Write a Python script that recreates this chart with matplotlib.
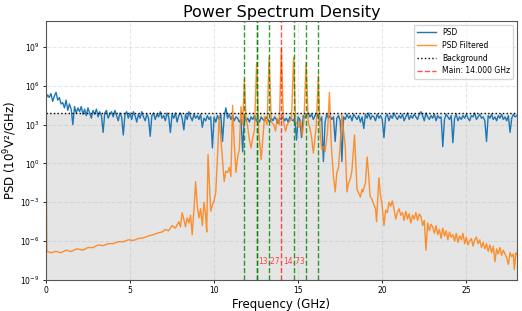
import numpy as np
import matplotlib

matplotlib.use("Agg")
import matplotlib.pyplot as plt
from matplotlib.ticker import NullLocator

# PSD (log10 values) sampled every 0.1 GHz from 0 to 28 GHz, one row per GHz
psd_freq = np.round(np.arange(0, 28.01, 0.1), 2)
psd_log10 = [
    5.0, 5.3, 5.1, 5.4, 4.8, 5.2, 5.5, 4.9, 5.1, 4.6,
    4.7, 4.3, 4.9, 4.1, 4.6, 4.2, 3.0, 4.4, 3.9, 4.3,
    4.0, 4.4, 3.8, 4.2, 3.7, 4.3, 3.9, 3.5, 4.1, 3.8,
    4.2, 3.6, 4.0, 3.7, 2.4, 3.9, 4.1, 3.5, 3.8, 4.0,
    3.6, 4.1, 3.7, 3.3, 3.9, 3.6, 2.2, 3.8, 4.0, 3.5,
    3.9, 3.4, 4.0, 3.7, 3.2, 3.8, 3.5, 4.0, 3.6, 3.3,
    3.8, 3.5, 2.1, 3.7, 3.9, 3.4, 3.8, 3.6, 4.0, 3.5,
    3.7, 3.3, 3.9, 3.6, 2.4, 3.8, 3.5, 3.9, 3.2, 3.7,
    3.9, 3.5, 2.6, 3.8, 3.4, 4.0, 3.6, 3.3, 3.8, 3.5,
    3.7, 3.4, 3.8, 2.8, 3.5, 3.3, 3.7, 3.4, 3.6, 1.2,
    3.6, 3.2, 3.7, 3.4, 3.8, 1.7, 3.6, 4.3, 3.5, 3.8,
    3.4, 3.7, 3.3, 3.6, 3.5, 3.2, 3.4, 0.9, 3.6, 3.3,
    3.5, 3.2, 3.6, 3.4, 3.7, 3.3, 3.5, 3.2, 3.6, 3.4,
    3.3, 3.6, 3.4, 3.2, 3.5, 3.3, 3.6, 3.4, 3.1, 3.5,
    3.4, 3.6, 3.3, 3.5, 3.2, 3.6, 3.4, 3.3, 3.5, 1.8,
    3.6, 3.4, 2.0, 3.7, 3.5, 3.8, 3.9, 3.6, 3.8, 3.4,
    3.7, 3.9, 3.5, 3.3, 3.6, 0.15, 3.2, 3.8, 3.5, 3.7,
    3.4, 3.6, 1.7, 3.5, 3.7, 3.3, 0.15, 3.6, 3.4, 3.8,
    3.5, 3.7, 3.3, 3.8, 3.6, 3.4, 3.7, 3.2, 3.6, 2.7,
    3.8, 3.5, 3.9, 3.4, 3.7, 3.6, 3.3, 3.8, 3.5, 3.7,
    3.4, 2.0, 3.6, 3.8, 3.3, 3.7, 3.5, 3.9, 3.6, 3.4,
    3.7, 3.5, 3.8, 3.3, 3.6, 3.9, 3.4, 3.7, 3.5, 3.8,
    3.6, 3.4, 3.8, 4.0, 3.7, 3.3, 3.9, 3.6, 3.4, 3.7,
    3.5, 3.8, 3.3, 3.7, 3.5, 3.6, 1.3, 3.4, 3.8, 3.6,
    3.4, 3.7, 1.6, 3.5, 3.8, 3.3, 3.6, 3.4, 3.7, 3.5,
    3.8, 3.5, 3.3, 3.7, 3.6, 3.9, 3.4, 3.6, 3.8, 3.5,
    3.6, 3.3, 1.7, 3.7, 3.5, 3.8, 3.4, 3.6, 3.3, 3.7,
    3.5, 3.8, 3.4, 3.6, 3.3, 3.7, 2.4, 3.5, 3.8, 3.6,
    3.7,
]

# filtered PSD: (frequency GHz, log10 value)
filt_freq = [
    0.0, 0.05, 0.3, 0.6, 0.9, 1.2, 1.5, 1.85, 2.2, 2.5, 2.8, 3.1, 3.4, 3.7,
    4.0, 4.3, 4.6, 4.9, 5.2, 5.5, 5.8, 6.1, 6.4, 6.7, 6.9, 7.1, 7.3, 7.5,
    7.7, 7.9, 8.0, 8.1, 8.2, 8.3, 8.4, 8.5, 8.6, 8.7, 8.8, 8.9, 9.0, 9.1,
    9.2, 9.3, 9.4, 9.5, 9.56, 9.64, 9.72, 9.8, 9.9, 10.0, 10.1, 10.2, 10.3,
    10.4, 10.5, 10.6, 10.7, 10.8, 10.9, 11.0, 11.1, 11.2, 11.3, 11.4, 11.5,
    11.6, 11.7, 11.8, 11.9, 12.0, 12.1, 12.2, 12.3, 12.4, 12.53, 12.65,
    12.8, 12.9, 13.0, 13.15, 13.27, 13.4, 13.55, 13.65, 13.75, 13.88, 14.0,
    14.12, 14.25, 14.35, 14.45, 14.6, 14.73, 14.85, 15.04, 15.15, 15.24,
    15.35, 15.47, 15.6, 15.7, 15.8, 15.9, 16.0, 16.07, 16.2, 16.3, 16.4,
    16.5, 16.6, 16.75, 16.86, 16.95, 17.0, 17.1, 17.2, 17.3, 17.4, 17.5,
    17.6, 17.7, 17.8, 17.9, 18.0, 18.1, 18.2, 18.35, 18.45, 18.5, 18.6,
    18.7, 18.8, 18.85, 19.0, 19.1, 19.2, 19.27, 19.4, 19.5, 19.6, 19.66,
    19.72, 19.8, 19.9, 20.0, 20.1, 20.2, 20.3, 20.4, 20.5, 20.6, 20.7,
    20.8, 20.9, 21.0, 21.1, 21.2, 21.3, 21.4, 21.5, 21.6, 21.7, 21.8,
    21.9, 22.0, 22.1, 22.2, 22.3, 22.4, 22.5, 22.6, 22.7, 22.8, 22.9,
    23.0, 23.1, 23.2, 23.3, 23.4, 23.5, 23.6, 23.7, 23.8, 23.9, 24.0,
    24.1, 24.2, 24.3, 24.4, 24.5, 24.6, 24.7, 24.8, 24.9, 25.0, 25.1,
    25.2, 25.3, 25.4, 25.5, 25.6, 25.7, 25.8, 25.9, 26.0, 26.1, 26.2,
    26.3, 26.4, 26.5, 26.6, 26.7, 26.8, 26.9, 27.0, 27.1, 27.2, 27.3,
    27.4, 27.5, 27.6, 27.7, 27.8, 27.85, 27.95, 28.0,
]
filt_log10 = [
    3.1, -6.8, -6.9, -6.8, -6.9, -6.7, -6.8, -6.6, -6.7, -6.5, -6.5, -6.3, -6.35, -6.2,
    -6.2, -6.05, -6.05, -5.9, -5.95, -5.8, -5.75, -5.6, -5.5, -5.35, -5.3, -5.1, -5.2, -4.8,
    -5.0, -4.5, -4.9, -3.8, -4.3, -4.9, -4.2, -4.6, -4.0, -5.5, -3.6, -1.4, -3.3, -4.2,
    -3.5, -4.8, -3.0, -4.0, -5.3, 0.7, -1.5, -3.7, -3.2, -2.9, -2.2, 0.5, 3.6,
    2.0, 0.3, -1.4, -0.6, -0.7, -0.3, -1.0, 4.5, 1.5, -0.7, 0.5, 1.1,
    4.4, 3.0, 6.5, 3.5, 2.8, 1.8, 1.2, 2.0, 2.6, 7.8, 2.5,
    0.3, 2.0, 3.6, 3.0, 8.2, 3.2, 3.0, 2.5, 3.5, 3.0, 8.9,
    3.3, 2.5, 3.0, 3.2, 3.4, 8.2, 3.2, 2.8, 3.3, 2.1,
    3.4, 7.8, 3.2, 2.7, 2.0, 0.8, 2.0, 2.8, 6.8, 2.5, 1.1,
    1.3, 0.9, 2.5, 5.5, 2.0, 0.8, -1.0, -2.2, -0.7, -0.3, 1.5,
    3.8, 2.5, 1.3, -2.2, -1.5, -1.2, -0.5, 2.2, -0.5, -2.0, -2.3,
    -2.6, -2.0, -2.2, -1.5, 0.5, -1.0, -2.5, -2.8, -3.2, -3.5, -4.5,
    -3.0, -1.1, -2.5, -3.3, -4.8, -3.6, -3.8, -3.0, -3.3, -2.9, -3.5,
    -4.3, -3.8, -3.5, -4.0, -3.8, -4.4, -3.7, -4.3, -3.9, -4.6, -4.0,
    -4.3, -3.8, -4.4, -3.9, -4.1, -4.8, -4.4, -6.7, -4.6, -5.2, -4.7,
    -4.9, -5.4, -4.8, -5.5, -5.1, -5.8, -5.0, -5.6, -5.2, -5.9, -5.3,
    -5.7, -5.5, -6.0, -5.4, -6.1, -5.6, -5.9, -5.4, -6.2, -5.7, -6.3,
    -6.0, -5.8, -6.4, -5.9, -5.7, -6.2, -5.9, -6.5, -6.1, -6.6, -6.2,
    -6.8, -6.3, -6.9, -6.4, -7.6, -6.6, -7.0, -6.5, -7.1, -6.7, -7.0,
    -7.3, -7.8, -6.9, -7.2, -7.0, -8.2, -6.9, -7.0,
]

background = 7.6e3
main_freq = 14.0
sideband_freqs = [11.8, 12.53, 12.53, 13.27, 14.73, 15.47, 16.2]
marked_freqs = [13.27, 14.73]

fig, ax = plt.subplots(figsize=(5.22, 3.11), dpi=100)
fig.subplots_adjust(left=0.088, right=0.99, bottom=0.1, top=0.932)

ax.plot(psd_freq, 10.0 ** np.array(psd_log10), color="C0", lw=1.0, label="PSD")
ax.plot(filt_freq, 10.0 ** np.array(filt_log10), color="C1", lw=1.0,
        alpha=0.85, label="PSD Filtered")
ax.axhline(background, color="k", ls=":", lw=1.0, label="Background")
ax.fill_between([0, 28], 1e-9, background, color="gray", alpha=0.2, lw=0)

ax.axvline(main_freq, color="red", ls="--", lw=1.0, alpha=0.7,
           label=f"Main: {main_freq:.3f} GHz")
for f in sideband_freqs:
    ax.axvline(f, color="green", ls="--", lw=1.0, alpha=0.8)
for f in marked_freqs:
    ax.text(f, 2.5e-8, f"{f:.2f}", color="red", alpha=0.7, fontsize=5.5,
            ha="center", va="center")

ax.set_yscale("log")
ax.set_xlim(0, 28)
ax.set_ylim(1e-9, 1e11)
ax.set_yticks([1e-9, 1e-6, 1e-3, 1e0, 1e3, 1e6, 1e9])
ax.yaxis.set_minor_locator(NullLocator())
ax.tick_params(labelsize=5.5, length=2.5, width=0.6, pad=2)
ax.grid(True, ls="--", alpha=0.3)
for s in ax.spines.values():
    s.set_linewidth(0.8)
    s.set_color("#555555")

ax.set_title("Power Spectrum Density", fontsize=11.5, pad=3)
ax.set_xlabel("Frequency (GHz)", fontsize=8.5, labelpad=2)
ax.set_ylabel("PSD (10$^9$V²/GHz)", fontsize=8.5, labelpad=1)
ax.legend(loc="upper right", fontsize=5.5, handlelength=2.5)

fig.savefig("out.png", dpi=100)
